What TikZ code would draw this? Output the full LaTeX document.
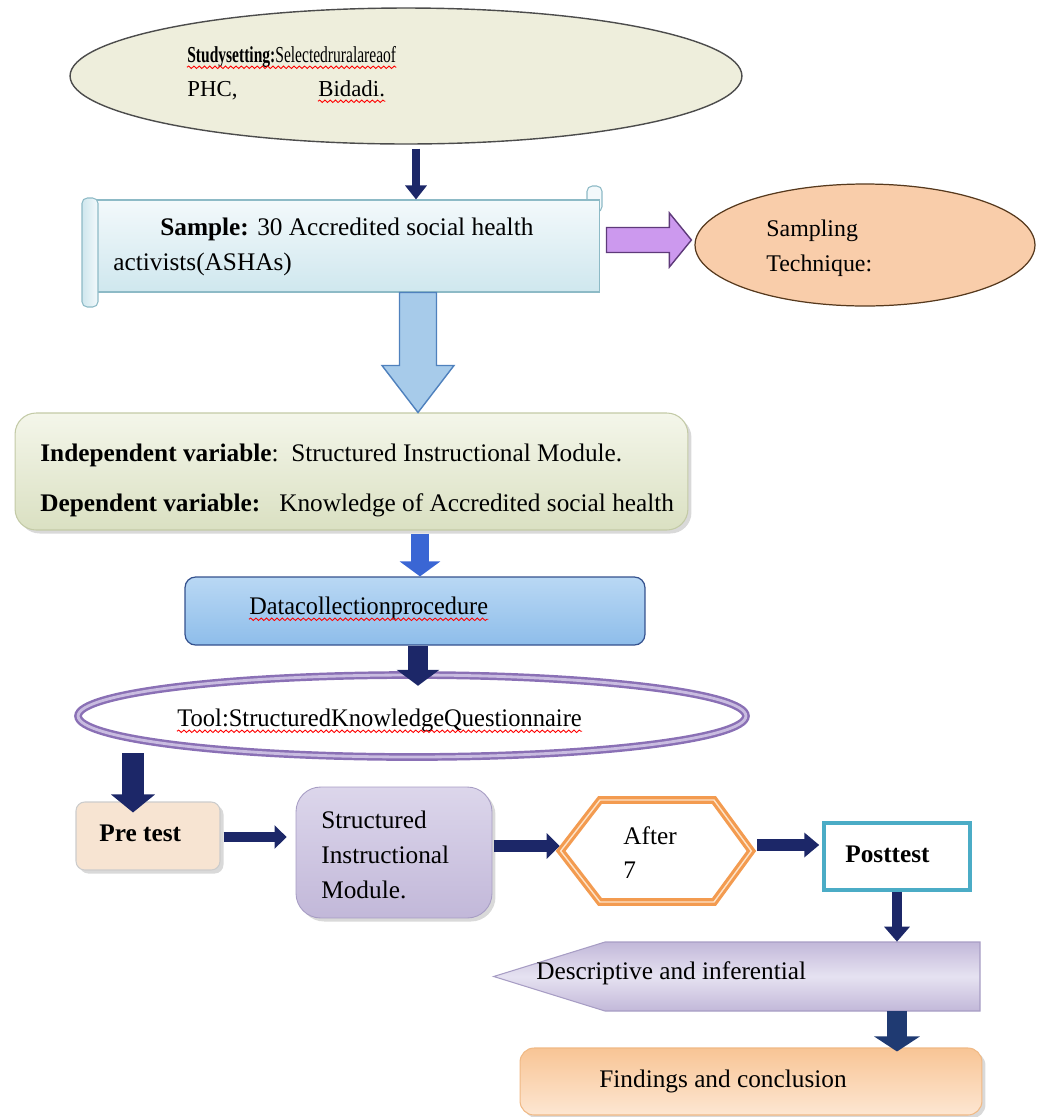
\documentclass[tikz,border=0pt]{standalone}
\usepackage{fontspec}
\setmainfont{Liberation Serif}
\usetikzlibrary{arrows.meta,shapes.geometric,shadows,decorations.pathmorphing,calc}
\definecolor{navy}{HTML}{1C2768}
\definecolor{navyb}{HTML}{1F3A72}
\definecolor{royal}{HTML}{3A66D4}
\definecolor{ellfill}{HTML}{EEEEDC}
\definecolor{peach}{HTML}{F9CDAA}
\definecolor{violetf}{HTML}{CC99EE}
\definecolor{violetd}{HTML}{5E3A7A}
\definecolor{hollowf}{HTML}{A7CBEA}
\definecolor{hollowd}{HTML}{4F81BD}
\definecolor{toolout}{HTML}{8A70B5}
\definecolor{toolin}{HTML}{C9BCE0}
\definecolor{hexor}{HTML}{F39B50}
\definecolor{hexin}{HTML}{FDE3C8}
\definecolor{cyanb}{HTML}{4BACC6}
\definecolor{samtop}{HTML}{F3F9FB}
\definecolor{sambot}{HTML}{CFE7EE}
\definecolor{samdraw}{HTML}{8DBAC6}
\definecolor{vartop}{HTML}{F4F6EA}
\definecolor{varbot}{HTML}{DAE0C2}
\definecolor{vardraw}{HTML}{C3CAA6}
\definecolor{datatop}{HTML}{B9D8F4}
\definecolor{databot}{HTML}{8EBDEA}
\definecolor{datadraw}{HTML}{34518E}
\definecolor{lavtop}{HTML}{DCD6EB}
\definecolor{lavbot}{HTML}{C2B8D9}
\definecolor{lavmid}{HTML}{E6E2F1}
\definecolor{lavdraw}{HTML}{A79DC4}
\definecolor{pretf}{HTML}{F7E4D2}
\definecolor{findtop}{HTML}{F8C595}
\definecolor{findbot}{HTML}{FDE6D2}
\definecolor{finddraw}{HTML}{F0B985}
\newcommand\fs{\fontsize{14.4}{17}\selectfont}
\begin{document}
\begin{tikzpicture}[x=0.02cm,y=-0.02cm,
  txt/.style={inner sep=0pt, anchor=base west, font=\fs},
  wavy/.style={draw=red, line width=0.5pt, decorate, decoration={snake, amplitude=0.7pt, segment length=3pt}},
  box/.style={inner sep=0pt},
  shad/.style={drop shadow={shadow xshift=2pt, shadow yshift=-2pt, opacity=0.3, fill=gray}},
  narrow/.style={draw=navy, line cap=butt},
]
\useasboundingbox (0,0) rectangle (1036,1117);

% ---------- top ellipse ----------
\node[ellipse, draw=black!70, line width=0.8pt, fill=ellfill, minimum width=13.44cm, minimum height=2.72cm, box] (setting) at (406,76) {};
\node[txt, font=\fontsize{13}{16}\selectfont] (s1) at (187,62) {\scalebox{0.68}[1]{\textbf{Studysetting:}Selectedruralareaof}};
\node[txt, font=\fontsize{13}{16}\selectfont] (s2) at (187,96) {PHC,};
\node[txt, font=\fontsize{13}{16}\selectfont] (s3) at (318,96) {Bidadi.};
\draw[wavy] ([yshift=-3pt]s1.base west) -- ([yshift=-3pt]s1.base east);
\draw[wavy] ([yshift=-3pt]s3.base west) -- ([yshift=-3pt]s3.base east);

% ---------- sample scroll ----------
\draw[draw=samdraw, fill=samtop, line width=0.6pt, rounded corners=3pt] (587,186) rectangle (602,212);
\node[box, draw=samdraw, line width=0.6pt, top color=samtop, bottom color=sambot, minimum width=10.2cm, minimum height=1.84cm] (sample) at (345,246) {};
\draw[draw=samdraw, line width=0.6pt, left color=sambot, right color=samtop, rounded corners=3pt] (82,198) rectangle (98,307);
\node[txt] (sa1) at (160,235) {\textbf{Sample:} 30 Accredited social health};
\node[txt] (sa2) at (113,270) {activists(ASHAs)};

% ---------- sampling ellipse ----------
\node[ellipse, draw=black!55!brown, line width=0.7pt, fill=peach, minimum width=6.8cm, minimum height=2.44cm, box] (sampling) at (865,245) {};
\node[txt, font=\fontsize{13.6}{16}\selectfont] (st1) at (766,236) {Sampling};
\node[txt, font=\fontsize{13.6}{16}\selectfont] (st2) at (766,271) {Technique:};

% ---------- variables box ----------
\node[box, rounded corners=12pt, draw=vardraw, line width=0.6pt, top color=vartop, bottom color=varbot, shad, minimum width=13.46cm, minimum height=2.34cm] (vars) at (351.5,471.5) {};
\node[txt] (v1) at (40,461) {\textbf{Independent variable}:~~Structured Instructional Module.};
\node[txt] (v2) at (40,511) {\textbf{Dependent variable:}~~~Knowledge of Accredited social health};

% ---------- data collection ----------
\node[box, rounded corners=6pt, draw=datadraw, line width=0.7pt, top color=datatop, bottom color=databot, minimum width=9.2cm, minimum height=1.36cm] (data) at (415,611) {};
\node[txt] (d1) at (249,614) {\scalebox{0.96}[1]{Datacollectionprocedure}};
\draw[wavy] ([yshift=-3pt]d1.base west) -- ([yshift=-3pt]d1.base east);

% ---------- tool ellipse ----------
\node[ellipse, draw=toolout, double=toolin, double distance=1.6pt, line width=1.4pt, fill=white, minimum width=13.36cm, minimum height=1.64cm, box] (tool) at (412,716) {};
\node[txt] (t1) at (177,726) {\scalebox{0.97}[1]{Tool:StructuredKnowledgeQuestionnaire}};
\draw[wavy] ([yshift=-3pt]t1.base west) -- ([yshift=-3pt]t1.base east);

% ---------- bottom row ----------
\node[box, rounded corners=5pt, draw=black!20, line width=0.6pt, fill=pretf, shad, minimum width=2.88cm, minimum height=1.36cm] (pretest) at (148,836) {};
\node[txt] (pt) at (99,841) {\textbf{Pre test}};

\node[box, rounded corners=14pt, draw=lavdraw, line width=0.5pt, top color=lavtop, bottom color=lavbot, shad, minimum width=3.92cm, minimum height=2.62cm] (struct) at (394,852.5) {};
\node[txt] (m1) at (321,828) {Structured};
\node[txt] (m2) at (321,863) {Instructional};
\node[txt] (m3) at (321,898) {Module.};

\node[box, minimum width=3.8cm, minimum height=2.06cm] (hex) at (656,851) {};
\draw[draw=hexor, double=hexin, double distance=0.8pt, line width=1.8pt, fill=white, line join=miter]
  (hex.west) -- (600,800) -- (714,800) -- (hex.east) -- (714,902) -- (600,902) -- cycle;
\node[txt] (h1) at (623,844) {After};
\node[txt] (h2) at (623,878) {7};

\node[box, draw=cyanb, line width=2pt, fill=white, minimum width=2.92cm, minimum height=1.34cm] (post) at (897,856.5) {};
\node[txt] (po) at (845,862) {\textbf{Posttest}};

\node[box, minimum width=9.72cm, minimum height=1.38cm] (desc) at (737,976.5) {};
\draw[draw=lavdraw, line width=0.6pt, top color=lavbot, bottom color=lavbot, middle color=lavmid]
  (980,942) -- (605,942) -- (desc.west) -- (605,1011) -- (980,1011) -- cycle;
\node[txt] (de) at (536,979) {Descriptive and inferential};

\node[box, rounded corners=8pt, draw=finddraw, line width=0.6pt, top color=findtop, bottom color=findbot, shad, minimum width=9.24cm, minimum height=1.34cm] (find) at (751,1081.5) {};
\node[txt] (fi) at (599,1087) {Findings and conclusion};

% ---------- connectors ----------
\coordinate (xa) at (416,0);
\coordinate (xb) at (418,0);
\coordinate (xc) at (420,0);
\coordinate (xd) at (418,0);
\coordinate (xe) at (133,0);
\coordinate (xf) at (897,0);
\coordinate (ya) at (0,837);
\coordinate (yb) at (0,846);
\coordinate (yc) at (0,845);

\draw[narrow, line width=0.16cm, -{Triangle[length=0.28cm,width=0.42cm]}] ($(setting.south -| xa)+(0,4)$) -- (sample.north -| xa);

% hollow blue block arrow
\coordinate (b0) at (sample.south -| xb);
\coordinate (b1) at (vars.north -| xb);
\filldraw[draw=hollowd, fill=hollowf, line width=0.8pt, line join=miter]
  ($(b0)+(-18.5,0)$) -- ($(b1)+(-18.5,-47)$) -- ($(b1)+(-36,-47)$) -- (b1) -- ($(b1)+(36,-47)$) -- ($(b1)+(18.5,-47)$) -- ($(b0)+(18.5,0)$) -- cycle;

% purple block arrow
\coordinate (p0) at ($(sample.east)+(6,-6)$);
\coordinate (p1) at ($(sampling.west)+(-3,-5)$);
\filldraw[draw=violetd, fill=violetf, line width=0.8pt, line join=miter]
  ($(p0)+(0,-12.5)$) -- ($(p1)+(-22,-12.5)$) -- ($(p1)+(-22,-27)$) -- (p1) -- ($(p1)+(-22,27)$) -- ($(p1)+(-22,12.5)$) -- ($(p0)+(0,12.5)$) -- cycle;

\draw[draw=royal, line width=0.36cm, -{Triangle[length=0.3cm,width=0.8cm]}] ($(vars.south -| xc)+(0,3)$) -- (data.north -| xc);
\draw[narrow, line width=0.4cm, -{Triangle[length=0.32cm,width=0.84cm]}] (data.south -| xd) -- ($(tool.north -| xd)+(0,12)$);
\draw[narrow, line width=0.44cm, -{Triangle[length=0.36cm,width=0.86cm]}] ($(tool.south -| xe)+(0,-5)$) -- ($(pretest.north -| xe)+(0,11)$);
\draw[narrow, line width=0.2cm, -{Triangle[length=0.24cm,width=0.46cm]}] ($(pretest.east |- ya)+(3,0)$) -- ($(struct.west |- ya)+(-9,0)$);
\draw[narrow, line width=0.24cm, -{Triangle[length=0.26cm,width=0.5cm]}] ($(struct.east |- yb)+(2,0)$) -- ($(hex.west |- yb)+(-1,0)$);
\draw[narrow, line width=0.24cm, -{Triangle[length=0.3cm,width=0.48cm]}] ($(hex.east |- yc)+(6,0)$) -- ($(post.west |- yc)+(-3,0)$);
\draw[narrow, line width=0.2cm, -{Triangle[length=0.3cm,width=0.5cm]}] (post.south -| xf) -- (desc.north -| xf);
\draw[draw=navyb, line width=0.4cm, -{Triangle[length=0.3cm,width=0.9cm]}] (desc.south -| xf) -- ($(find.north -| xf)+(0,4)$);
\end{tikzpicture}
\end{document}
